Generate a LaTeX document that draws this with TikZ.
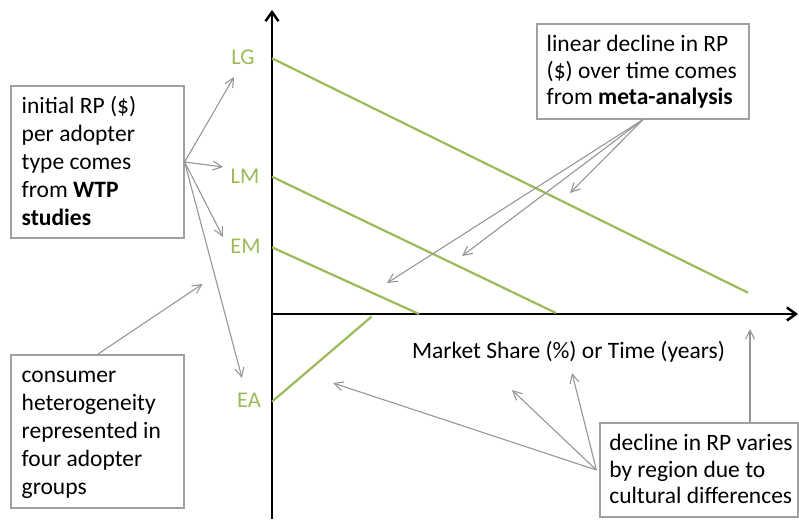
\documentclass[tikz,border=0pt]{standalone}
\usepackage{fontspec}
\setmainfont{Carlito}
\usetikzlibrary{arrows.meta,calc}
\definecolor{rpgreen}{RGB}{155,187,89}
\definecolor{arrgray}{RGB}{150,150,150}
\definecolor{boxgray}{RGB}{160,160,160}
\newcommand\boxtxt[5]{\parbox[c][#2pt][t]{#1pt}{\raggedright\leftskip=#3pt\relax\fontsize{23.5}{#4}\selectfont\vspace*{10.5pt}\rule{0pt}{17pt}#5}}
\begin{document}
\begin{tikzpicture}[x=1pt,y=-1pt,
  axis/.style={line width=2.5pt, black, -{Straight Barb[length=9pt,width=13pt]}},
  rpline/.style={line width=2.2pt, rpgreen},
  callout/.style={line width=1.1pt, arrgray, -{Straight Barb[length=9pt,width=9pt]}},
  infobox/.style={draw=boxgray, line width=1.2pt, inner sep=0pt},
  adopter/.style={text=rpgreen, inner sep=0pt, font=\fontsize{22.5}{27}\selectfont},
  axlabel/.style={inner sep=0pt, font=\fontsize{23.5}{28}\selectfont},
]
\useasboundingbox (0,0) rectangle (799,519);

% axes
\coordinate (ybot) at (272,519);
\coordinate (ytop) at (272,10);
\coordinate (O) at (272,314);
\coordinate (xend) at (798,314);
\draw[axis] (ybot) -- (ytop);
\draw[axis] (O) -- (xend);

% reservation price lines
\coordinate (lg0) at (272,58.3);  \coordinate (lg1) at (748,292.7);
\coordinate (lm0) at (272,176.7); \coordinate (lm1) at (556,313);
\coordinate (em0) at (272,247.3); \coordinate (em1) at (419,314);
\coordinate (ea0) at (272,401.7); \coordinate (ea1) at (371.7,316.5);
\draw[rpline] (lg0) -- (lg1);
\draw[rpline] (lm0) -- (lm1);
\draw[rpline] (em0) -- (em1);
\draw[rpline] (ea0) -- (ea1);

% adopter labels
\node[adopter] (LG) at (243,57.5) {LG};
\node[adopter] (LM) at (245,176) {LM};
\node[adopter] (EM) at (245.5,246) {EM};
\node[adopter] (EA) at (249,400) {EA};

% axis label
\node[axlabel, anchor=base] (xlab) at (568.5,358) {Market Share (\%) or Time (years)};

% boxes
\node[infobox] (b1) at (97.5,162) {\boxtxt{173}{152}{10.7}{28pt}{initial RP (\$)\\per adopter\\type comes\\from \textbf{WTP}\\\textbf{studies}}};
\node[infobox] (b2) at (97.5,431.5) {\boxtxt{173}{153}{10.7}{28pt}{consumer\\heterogeneity\\represented in\\four adopter\\groups}};
\node[infobox] (b3) at (643,71.5) {\boxtxt{212}{95}{9.7}{26.7pt}{linear decline in RP\\(\$) over time comes\\from \textbf{meta-analysis}}};
\node[infobox] (b4) at (699,470) {\boxtxt{198}{94}{9.3}{26.7pt}{decline in RP varies\\by region due to\\cultural differences}};

% callout targets
\coordinate (t1a) at (234,77);
\coordinate (t1b) at (223,167);
\coordinate (t1c) at (223,237);
\coordinate (t1d) at (242,378);
\coordinate (t2) at (202.5,284);
\coordinate (t3a) at (570,193);
\coordinate (t3b) at (462,256);
\coordinate (t3c) at (387,283);
\coordinate (t4a) at (333,383);
\coordinate (t4b) at (512,390);
\coordinate (t4c) at (572,373);
\coordinate (t4d) at (750,329);
\coordinate (s4) at ($(b4.west)+(-3,0)$);

\draw[callout] (b1.east) -- (t1a);
\draw[callout] (b1.east) -- (t1b);
\draw[callout] (b1.east) -- (t1c);
\draw[callout] (b1.east) -- (t1d);
\draw[callout] (b2.north) -- (t2);
\draw[callout] (b3.south) -- (t3a);
\draw[callout] (b3.south) -- (t3b);
\draw[callout] (b3.south) -- (t3c);
\draw[callout] (s4) -- (t4a);
\draw[callout] (s4) -- (t4b);
\draw[callout] (s4) -- (t4c);
\draw[callout] (b4.north west -| t4d) -- (t4d);
\end{tikzpicture}
\end{document}
